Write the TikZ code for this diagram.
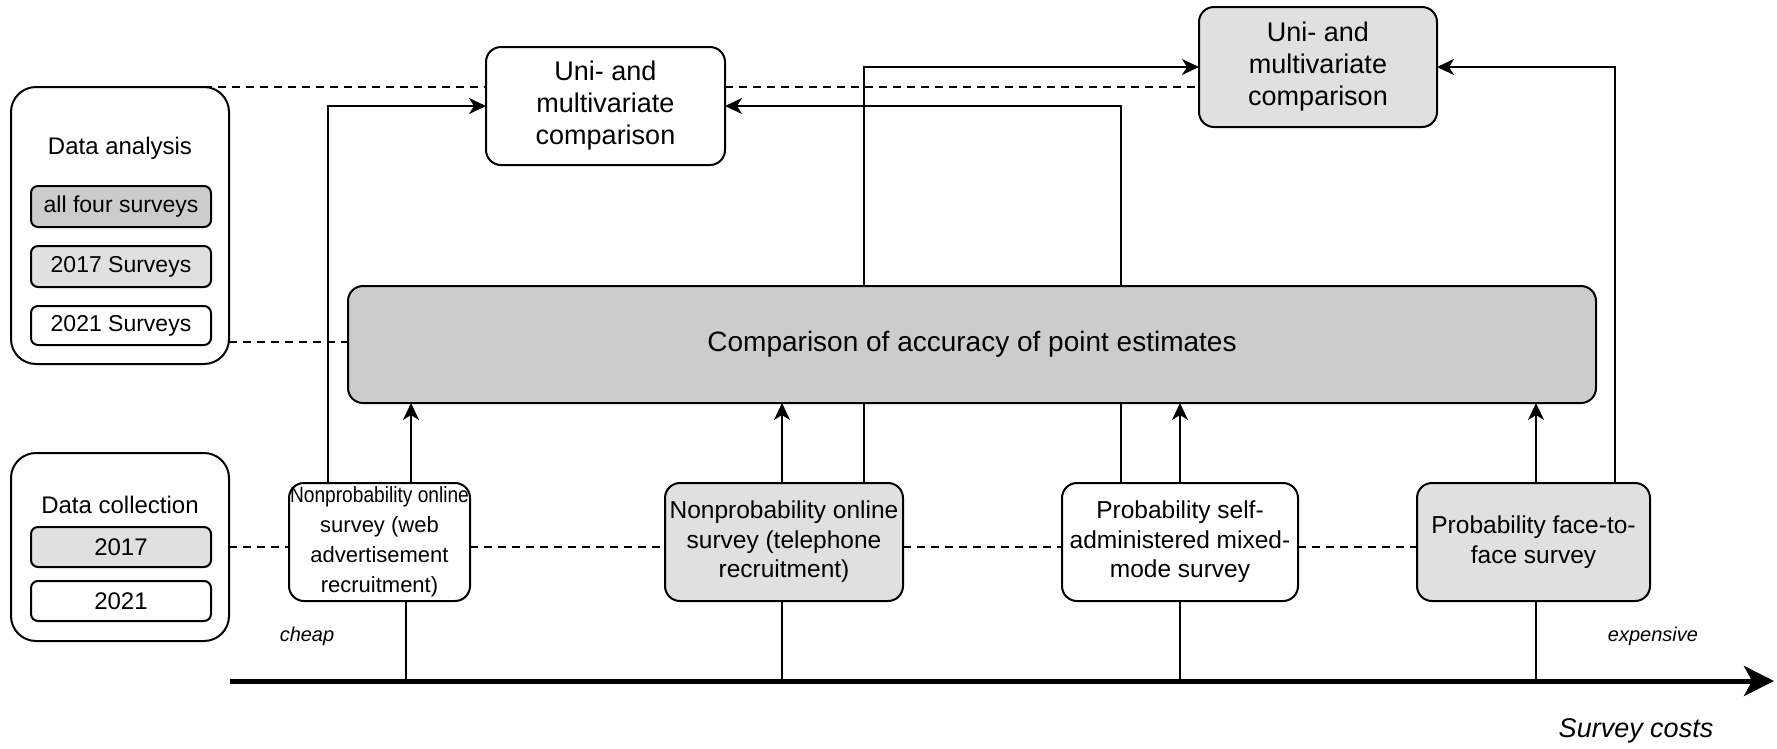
\documentclass[tikz,border=0pt]{standalone}
\usepackage{fontspec}
\setmainfont{Liberation Sans}
\usetikzlibrary{arrows.meta}
\definecolor{gdark}{HTML}{CCCCCC}
\definecolor{glight}{HTML}{E0E0E0}
\tikzset{
  box/.style={draw, line width=2pt, rounded corners=15pt, align=center, inner sep=0pt, outer sep=0pt},
  panel/.style={draw, line width=2pt, rounded corners=25pt, inner sep=0pt, outer sep=0pt},
  tag/.style={draw, line width=2pt, rounded corners=7pt, align=center, inner sep=0pt, outer sep=0pt, minimum width=180pt, font=\fontsize{23}{27}\selectfont},
  conn/.style={line width=2pt, -{Stealth[length=17pt,width=16pt,inset=5pt]}},
  plain/.style={line width=2pt},
  dashline/.style={line width=2pt, dash pattern=on 8pt off 6pt},
  lbl/.style={inner sep=0pt, outer sep=0pt, align=center}
}
\begin{document}
\begin{tikzpicture}[x=1pt,y=-1pt]
\useasboundingbox (0,0) rectangle (1777,748);
% left panels
\node[panel, minimum width=218pt, minimum height=277pt] (da) at (120,225.5) {};
\node[lbl, font=\fontsize{24}{28}\selectfont] (dat) at (120,148) {Data analysis};
\node[tag, fill=gdark, minimum height=41pt] (s1) at (121,206.5) {all four surveys};
\node[tag, fill=glight, minimum height=41pt] (s2) at (121,266.5) {2017 Surveys};
\node[tag, fill=white, minimum height=39pt] (s3) at (121,325.5) {2021 Surveys};
\node[panel, minimum width=218pt, minimum height=188pt] (dc) at (120,547) {};
\node[lbl, font=\fontsize{24}{28}\selectfont] (dct) at (120,505) {Data collection};
\node[tag, fill=glight, minimum height=40pt, font=\fontsize{24}{28}\selectfont] (c1) at (121,547) {2017};
\node[tag, fill=white, minimum height=40pt, font=\fontsize{24}{28}\selectfont] (c2) at (121,601) {2021};
% comparison boxes
\node[box, fill=white, minimum width=239pt, minimum height=118pt, font=\fontsize{27}{32}\selectfont] (uni1) at (605.5,106) {Uni- and\\multivariate\\comparison};
\node[box, fill=glight, minimum width=238pt, minimum height=120pt, font=\fontsize{27}{32}\selectfont] (uni2) at (1318,67) {Uni- and\\multivariate\\comparison};
% survey boxes
\node[box, fill=white, minimum width=181pt, minimum height=118pt, font=\fontsize{22}{30}\selectfont] (a) at (379.5,542) {\scalebox{0.87}[1]{Nonprobability online}\\survey (web\\advertisement\\recruitment)};
\node[box, fill=glight, minimum width=238pt, minimum height=118pt, font=\fontsize{24.5}{29.5}\selectfont] (b) at (784,542) {Nonprobability online\\survey (telephone\\recruitment)};
\node[box, fill=white, minimum width=236pt, minimum height=118pt, font=\fontsize{24.5}{29.5}\selectfont] (c) at (1180,542) {Probability self-\\administered mixed-\\mode survey};
\node[box, fill=glight, minimum width=233pt, minimum height=118pt, font=\fontsize{24.5}{29.5}\selectfont] (d) at (1533.5,542) {Probability face-to-\\face survey};
% helper coordinates
\coordinate (xA) at (328,0);
\coordinate (xB) at (864,0);
\coordinate (xC) at (1121,0);
\coordinate (xD) at (1615,0);
\coordinate (uA) at (411,0);
\coordinate (uB) at (782,0);
\coordinate (uC) at (1180,0);
\coordinate (uD) at (1536,0);
\coordinate (tA) at (406,681);
\coordinate (tB) at (782,681);
\coordinate (tC) at (1180,681);
\coordinate (tD) at (1536,681);
\coordinate (axL) at (230,681);
\coordinate (axR) at (1774,681);
\coordinate (yD) at (0,342);
% long connectors to uni boxes (behind comparison box)
\draw[conn] (a.north -| xA) |- (uni1.west);
\draw[conn] (b.north -| xB) |- (uni2.west);
\draw[conn] (c.north -| xC) |- (uni1.east);
\draw[conn] (d.north -| xD) |- (uni2.east);
% comparison box
\node[box, fill=gdark, minimum width=1248pt, minimum height=117pt, font=\fontsize{28}{32}\selectfont] (cmp) at (972,344.5) {Comparison of accuracy of point estimates};
% arrows up to comparison
\draw[conn] (a.north -| uA) -- (cmp.south -| uA);
\draw[conn] (b.north -| uB) -- (cmp.south -| uB);
\draw[conn] (c.north -| uC) -- (cmp.south -| uC);
\draw[conn] (d.north -| uD) -- (cmp.south -| uD);
% dashed links
\draw[dashline] ([xshift=-25pt]da.north east) -- (uni1.west |- da.north);
\draw[dashline] (uni1.east |- da.north) -- (uni2.west |- da.north);
\draw[dashline] (da.east |- yD) -- (cmp.west |- yD);
\draw[dashline] (dc.east) -- (a.west |- dc.east);
\draw[dashline] (a.east |- dc.east) -- (b.west |- dc.east);
\draw[dashline] (b.east |- dc.east) -- (c.west |- dc.east);
\draw[dashline] (c.east |- dc.east) -- (d.west |- dc.east);
% cost axis
\draw[plain] (a.south -| tA) -- (tA);
\draw[plain] (b.south -| tB) -- (tB);
\draw[plain] (c.south -| tC) -- (tC);
\draw[plain] (d.south -| tD) -- (tD);
\draw[line width=5pt, -{Stealth[length=30pt,width=30pt,inset=8pt]}] (axL) -- (axR);
\node[lbl, font=\fontsize{20}{24}\selectfont\itshape] (cheap) at (307,636) {cheap};
\node[lbl, font=\fontsize{20}{24}\selectfont\itshape] (exp) at (1653,636) {expensive};
\node[lbl, font=\fontsize{27}{32}\selectfont\itshape] (sc) at (1636,731) {Survey costs};
\end{tikzpicture}
\end{document}
